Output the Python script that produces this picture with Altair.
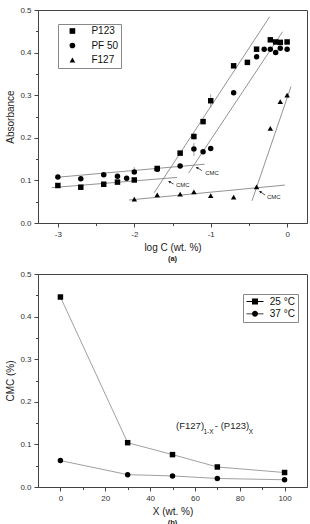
import altair as alt
import pandas as pd

# ---------------- Panel (a) data ----------------
p123_x = [-3.0, -2.7, -2.4, -2.22, -2.0, -1.7, -1.4, -1.22, -1.1, -1.0, -0.7, -0.52, -0.4, -0.22, -0.15, -0.09, 0.0]
p123_y = [0.088, 0.084, 0.091, 0.096, 0.101, 0.128, 0.164, 0.203, 0.238, 0.287, 0.369, 0.377, 0.408, 0.430, 0.425, 0.424, 0.425]
pf50_x = [-3.0, -2.7, -2.4, -2.22, -2.1, -2.0, -1.7, -1.4, -1.22, -1.1, -1.0, -0.7, -0.4, -0.3, -0.22, -0.15, -0.09, 0.0]
pf50_y = [0.108, 0.104, 0.113, 0.110, 0.105, 0.120, 0.126, 0.134, 0.174, 0.167, 0.175, 0.306, 0.390, 0.408, 0.408, 0.400, 0.410, 0.408]
f127_x = [-2.0, -1.7, -1.4, -1.22, -1.0, -0.7, -0.4, -0.22, -0.09, 0.0]
f127_y = [0.056, 0.066, 0.068, 0.073, 0.064, 0.061, 0.085, 0.222, 0.285, 0.300]

series_a = ["P123", "PF 50", "F127"]

# fitted guide lines: x1, y1, x2, y2
fit_x1 = [-3.08, -3.03, -2.07, -1.74, -1.29, -0.46]
fit_y1 = [0.083, 0.107, 0.054, 0.071, 0.117, 0.052]
fit_x2 = [-1.44, -1.08, -0.03, -0.23, -0.06, 0.05]
fit_y2 = [0.107, 0.138, 0.089, 0.484, 0.449, 0.320]

# error bars: x, low, high
err_x = [-1.0, -1.22, -1.22, -2.0]
err_lo = [0.270, 0.157, 0.195, 0.113]
err_hi = [0.302, 0.188, 0.212, 0.131]

# CMC annotations: text position, arrow tail, arrow head
cmc_tx = [-1.072, -1.455, -0.265]
cmc_ty = [0.118, 0.0885, 0.061]
arr_x1 = [-1.115, -1.486, -0.288]
arr_y1 = [0.123, 0.0915, 0.0657]
arr_x2 = [-1.180, -1.542, -0.353]
arr_y2 = [0.130, 0.097, 0.0735]

# ---------------- Panel (b) data ----------------
x_b = [0, 30, 50, 70, 100]
cmc_25 = [0.446, 0.104, 0.076, 0.047, 0.034]
cmc_37 = [0.062, 0.029, 0.026, 0.020, 0.017]
series_b = ["25 °C", "37 °C"]

# ---------------- build tables ----------------
rows = []
for name, xs, ys in zip(series_a, [p123_x, pf50_x, f127_x], [p123_y, pf50_y, f127_y]):
    for xv, yv in zip(xs, ys):
        rows.append({"series": name, "x": xv, "y": yv})
df_a = pd.DataFrame(rows)
df_fit = pd.DataFrame({"x": fit_x1, "y": fit_y1, "x2": fit_x2, "y2": fit_y2})
df_err = pd.DataFrame({"x": err_x, "lo": err_lo, "hi": err_hi})
df_cmc = pd.DataFrame({"x": cmc_tx, "y": cmc_ty, "t": ["CMC"] * 3})
df_arr = pd.DataFrame({"x": arr_x1, "y": arr_y1, "x2": arr_x2, "y2": arr_y2})

rows = []
for name, ys in zip(series_b, [cmc_25, cmc_37]):
    for xv, yv in zip(x_b, ys):
        rows.append({"series": name, "series2": name, "x": xv, "y": yv})
df_b = pd.DataFrame(rows)

W, H = 269, 213
AX = "#444"

def tick_cond(test):
    return {"condition": {"test": test, "value": 4}, "value": 2.5}

xsc_a = alt.Scale(domain=[-3.26, 0.26], nice=False, zero=False)
ysc = alt.Scale(domain=[0, 0.5], nice=False, zero=True)

x_axis_a = alt.Axis(values=[-3, -2.5, -2, -1.5, -1, -0.5, 0],
                    labelExpr="datum.value % 1 === 0 ? '' + datum.value : ''",
                    tickSize=tick_cond("datum.value % 1 === 0"),
                    title="log C (wt. %)")
y_axis_a = alt.Axis(values=[0, 0.05, 0.1, 0.15, 0.2, 0.25, 0.3, 0.35, 0.4, 0.45, 0.5],
                    labelExpr="round(datum.value*20) % 2 === 0 ? format(datum.value, '.1f') : ''",
                    tickSize=tick_cond("round(datum.value*20) % 2 === 0"),
                    title="Absorbance")

X_a = alt.X("x:Q", scale=xsc_a, axis=x_axis_a)
Y_a = alt.Y("y:Q", scale=ysc, axis=y_axis_a)

fit = alt.Chart(df_fit).mark_rule(color="#777", strokeWidth=0.8).encode(
    x=X_a, y=Y_a, x2="x2:Q", y2="y2:Q")
err = alt.Chart(df_err).mark_rule(color="#888", strokeWidth=0.8).encode(
    x=X_a, y=alt.Y("lo:Q", scale=ysc, axis=y_axis_a), y2="hi:Q")
pts_a = alt.Chart(df_a).mark_point(filled=True, color="black", opacity=1, size=30).encode(
    x=X_a, y=Y_a,
    shape=alt.Shape("series:N",
                    scale=alt.Scale(domain=series_a, range=["square", "circle", "triangle-up"]),
                    legend=alt.Legend(orient="none", legendX=20, legendY=14, title=None,
                                      strokeColor="#888", fillColor="white", padding=2,
                                      symbolOffset=7.4, labelOffset=14, rowPadding=2.5,
                                      labelFontSize=10, labelColor="#111", symbolSize=32,
                                      symbolFillColor="black", symbolStrokeColor="black",
                                      symbolOpacity=1)))
cmc_txt = alt.Chart(df_cmc).mark_text(fontSize=6, align="left", baseline="middle", color="#222").encode(
    x=X_a, y=Y_a, text="t:N")
arr = alt.Chart(df_arr).mark_rule(color="#222", strokeWidth=0.8).encode(
    x=X_a, y=Y_a, x2="x2:Q", y2="y2:Q")
arr_head = alt.Chart(df_arr).mark_point(shape="triangle-up", angle=300, size=8, filled=True,
                                        color="#222", opacity=1).encode(
    x=alt.X("x2:Q", scale=xsc_a, axis=x_axis_a), y=alt.Y("y2:Q", scale=ysc, axis=y_axis_a))

panel_a = alt.layer(fit, err, arr, arr_head, cmc_txt, pts_a).properties(
    width=W, height=H,
    title=alt.TitleParams("(a)", orient="bottom", fontSize=7.5, fontWeight="bold", offset=3, color="#222"))

# ---------------- panel (b) ----------------
xsc_b = alt.Scale(domain=[-10, 110], nice=False, zero=False)
x_axis_b = alt.Axis(values=list(range(0, 101, 10)),
                    labelExpr="datum.value % 20 === 0 ? '' + datum.value : ''",
                    tickSize=tick_cond("datum.value % 20 === 0"),
                    title="X (wt. %)")
y_axis_b = alt.Axis(values=[0, 0.05, 0.1, 0.15, 0.2, 0.25, 0.3, 0.35, 0.4, 0.45, 0.5],
                    labelExpr="round(datum.value*20) % 2 === 0 ? format(datum.value, '.1f') : ''",
                    tickSize=tick_cond("round(datum.value*20) % 2 === 0"),
                    title="CMC (%)")
X_b = alt.X("x:Q", scale=xsc_b, axis=x_axis_b)
Y_b = alt.Y("y:Q", scale=ysc, axis=y_axis_b)

# legend keys: short line with marker in the middle (filled shapes only)
seg = "M-1.7,-0.08H-0.6V0.08H-1.7Z M0.6,-0.08H1.7V0.08H0.6Z "
sq_path = seg + "M-0.6,-0.6H0.6V0.6H-0.6Z"
ci_path = seg + "M-0.6,0A0.6,0.6,0,1,0,0.6,0A0.6,0.6,0,1,0,-0.6,0Z"

lines_b = alt.Chart(df_b).mark_line(color="#888", strokeWidth=0.8).encode(
    x=X_b, y=Y_b, detail="series:N")
pts_b = alt.Chart(df_b).mark_point(filled=True, color="black", opacity=1, size=30).encode(
    x=X_b, y=Y_b,
    shape=alt.Shape("series:N", scale=alt.Scale(domain=series_b, range=["square", "circle"]),
                    legend=None))
leg_b = alt.Chart(df_b).transform_filter("false").mark_point(
    filled=True, color="black", strokeWidth=0, opacity=1).encode(
    x=X_b, y=Y_b,
    shape=alt.Shape("series2:N", scale=alt.Scale(domain=series_b, range=[sq_path, ci_path]),
                    legend=alt.Legend(orient="none", legendX=205, legendY=20, title=None,
                                      strokeColor="#888", fillColor="white", padding=2.5,
                                      symbolOffset=4.5, labelOffset=9.8, rowPadding=2.3,
                                      labelFontSize=10, labelColor="#111", symbolSize=100,
                                      symbolFillColor="black", symbolStrokeWidth=0,
                                      symbolOpacity=1)))

ann_main = pd.DataFrame({"x": [51.6, 68.9], "y": [0.143, 0.143], "t": ["(F127)", "- (P123)"]})
ann_sub = pd.DataFrame({"x": [63.8, 84.0], "y": [0.128, 0.128], "t": ["1-X", "X"]})
t_main = alt.Chart(ann_main).mark_text(fontSize=9.5, align="left", baseline="middle", color="#222").encode(
    x=X_b, y=Y_b, text="t:N")
t_sub = alt.Chart(ann_sub).mark_text(fontSize=6.5, align="left", baseline="middle", color="#222").encode(
    x=X_b, y=Y_b, text="t:N")

panel_b = alt.layer(lines_b, pts_b, leg_b, t_main, t_sub).resolve_scale(shape="independent").properties(
    width=W, height=H,
    title=alt.TitleParams("(b)", orient="bottom", fontSize=7.5, fontWeight="bold", offset=3, color="#222"))

chart = alt.vconcat(panel_a, panel_b, spacing=6).properties(
    padding={"left": 5, "top": 5, "right": 0, "bottom": 0}
).configure(font="Liberation Sans").configure_axis(
    labelFontSize=8, titleFontSize=10, labelColor="#333", titleColor="#222",
    domainColor=AX, tickColor=AX, grid=False, labelPadding=3, titlePadding=4,
    titleFontWeight="normal", labelFlush=False
).configure_view(stroke=AX, strokeWidth=1).configure_legend(
    labelFont="Liberation Sans"
)

chart.save("out.html", embed_options={"renderer": "svg", "actions": False})
